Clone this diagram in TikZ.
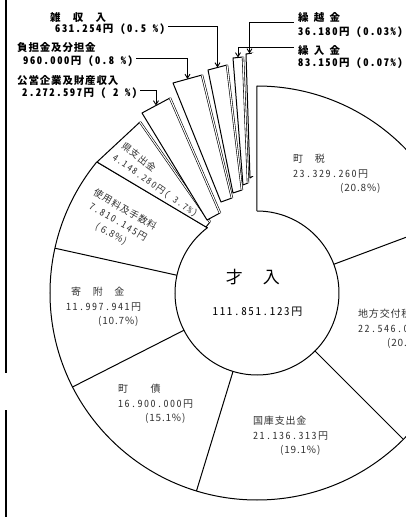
\documentclass[tikz,border=0pt]{standalone}
\usepackage{fontspec}
\setmainfont{Noto Sans CJK JP}[LetterSpace=8]
\newfontfamily\numfont{Noto Sans CJK JP}[CharacterWidth=Half, LetterSpace=15]
\usetikzlibrary{arrows.meta, calc}
\tikzset{
  edge/.style={line width=1pt, line join=round},
  plank/.style={edge, fill=white},
  rim/.style={line width=0.6pt, double, double distance=1.1pt},
  leader/.style={line width=0.9pt, -{Straight Barb[length=4pt, width=5pt]}},
  tag/.style={inner sep=0pt, anchor=west, font=\fontsize{10.5}{13}\selectfont\bfseries},
  lbl/.style={inner sep=0pt, anchor=north west, align=left, text=black!80, font=\fontsize{10}{14.5}\selectfont},
  turned/.style={inner sep=0pt, text=black!80, font=\fontsize{9.5}{14}\selectfont}
}

\begin{document}
\begin{tikzpicture}[x=1pt, y=1pt]
\pgfmathsetmacro{\rIn}{82}
\pgfmathsetmacro{\rOut}{207}
\useasboundingbox (-257,-224) rectangle (149,293);
\clip (-257,-224) rectangle (149,293);

% Left edge of the page
\draw[line width=2.5pt] (-251,293) -- (-251,-80);
\draw[line width=2.5pt] (-251,-117) -- (-251,-224);

% Main slices
\draw[edge] (90:\rIn) -- (90:\rOut) arc[start angle=90, end angle=-219.3, radius=\rOut];
\draw[edge] (140.7:\rOut) -- (127.2:\rIn) arc[start angle=127.2, end angle=450, radius=\rIn];
\foreach \a in {20.5,-45,-107,-153,167.5}
  \draw[edge] (\a:\rIn) -- (\a:\rOut);

% Small slices, pulled out as planks
\draw[plank] (-160,131) -- (-117,171) -- (-47,71) -- (-51,66) -- cycle;
\draw[rim] (-117,171) -- (-47,71);
\draw[plank] (-115,180) -- (-87,195) -- (-37,80) -- (-50,73) -- cycle;
\draw[rim] (-87,195) -- (-37,80);
\draw[plank] (-84,210) -- (-55,218) -- (-25,95) -- (-36,91) -- cycle;
\draw[rim] (-55,218) -- (-25,95);
\draw[plank] (-49,223) -- (-30,228) -- (-15,103) -- (-24,100) -- cycle;
\draw[rim] (-30,228) -- (-15,103);
\draw[plank] (-24,235) -- (-14,236) -- (-9,110) -- (-14,108) -- cycle;
\draw[rim] (-14,236) -- (-9,110);
\draw[plank] (-11,239) -- (-4,240) -- (-4,117) -- (-7,115) -- cycle;
\draw[rim] (-4,240) -- (-4,117);

\coordinate (tipA) at (-101,187.5);
\coordinate (tipB) at (-69.5,214);
\coordinate (tipC) at (-39.5,225.5);
\coordinate (tipD) at (-19,235.5);
\coordinate (tipE) at (-7.5,239.5);

% Centre
\node[inner sep=0pt, font=\fontsize{17}{17}\selectfont] (title) at (-4,16) {才\hspace*{20pt}入};
\node[inner sep=0pt, font=\fontsize{11}{11}\selectfont\numfont] (total) at (0.5,-19) {111.851.123円};

% Slice labels
\node[lbl] (choZei) at (36,139) {町　税\\{\numfont 23.329.260円}\\\hspace*{47pt}(20.8\%)};
\node[lbl] (kofu) at (101,-16) {地方交付税\\{\numfont 22.546.003円}\\\hspace*{29pt}(20.2\%)};
\node[lbl] (kokko) at (-4,-123) {国庫支出金\\{\numfont 21.136.313円}\\\hspace*{27pt}(19.1\%)};
\node[lbl] (choSai) at (-139,-91) {町　　債\\{\numfont 16.900.000円}\\\hspace*{27pt}(15.1\%)};
\node[lbl] (kifu) at (-191,6) {\hspace*{5pt}寄　附　金\\{\numfont 11.997.941円}\\\hspace*{32pt}(10.7\%)};
\node[turned, rotate=-30, align=center] (shiyo) at (-139,71) {使用料及手数料\\{\numfont 7.810.145円}\\( 6.8\%)};
\node[turned, rotate=-38] (kenN) at (-118,136) {県支出金};
\node[turned, rotate=-35, font=\fontsize{9}{12}\selectfont\numfont] (kenV) at (-102,107) {4.148.280円( 3.7\%)};

% Labels of the small slices
\node[tag] (zatN) at (-207,276) {雑　収　入};
\node[tag] (zatV) at (-202,264) {\numfont 631.254円 (0.5 \%)};
\node[tag] (futN) at (-240,245) {負担金及分担金};
\node[tag] (futV) at (-234,232) {\numfont 960.000円 (0.8 \%)};
\node[tag] (koeN) at (-240,212) {公営企業及財産収入};
\node[tag] (koeV) at (-235,200) {\numfont 2.272.597円 ( 2 \%)};
\node[tag] (kosN) at (41,276) {繰\enspace 越\enspace 金};
\node[tag] (kosV) at (41,261) {\numfont 36.180円 (0.03\%)};
\node[tag] (kunN) at (41,243) {繰\enspace 入\enspace 金};
\node[tag] (kunV) at (41,230) {\numfont 83.150円 (0.07\%)};

% Leaders
\draw[leader] ($(zatV.east)+(3,3)$) -| (tipC);
\draw[leader] ($(futV.east)+(3,3)$) -| (tipB);
\draw[leader] ($(koeV.east)+(3,3)$) -| (tipA);
\draw[leader] ($(kosN.south west)+(-4,0)$) -| (tipE);
\draw[leader] ($(kunN.west)+(-4,3)$) -| (tipD);
\end{tikzpicture}
\end{document}
